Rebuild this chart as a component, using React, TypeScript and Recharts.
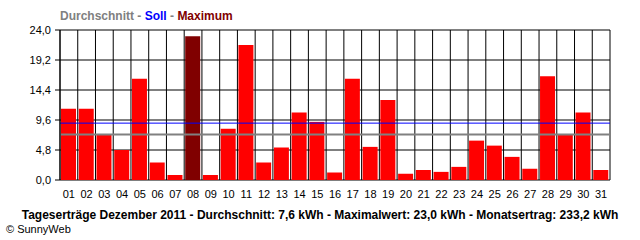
import React from 'react';
import { BarChart, Bar, XAxis, YAxis, CartesianGrid, ReferenceLine, Cell } from 'recharts';

const days = ['01','02','03','04','05','06','07','08','09','10','11','12','13','14','15','16','17','18','19','20','21','22','23','24','25','26','27','28','29','30','31'];
const yields = [11.4, 11.4, 7.3, 4.8, 16.2, 2.8, 0.8, 23.0, 0.8, 8.2, 21.6, 2.8, 5.2, 10.8, 9.3, 1.2, 16.2, 5.3, 12.8, 1.0, 1.6, 1.3, 2.1, 6.3, 5.5, 3.7, 1.8, 16.6, 7.3, 10.8, 1.6];
const yTicks = [0, 4.8, 9.6, 14.4, 19.2, 24];
const boundaryTicks = Array.from({ length: days.length + 1 }, (_, i) => i);
const targetValue = 9.1;
const averageValue = 7.3;
const legendItems = [
  { text: 'Durchschnitt', color: '#808080' },
  { text: 'Soll', color: '#0000FF' },
  { text: 'Maximum', color: '#800000' },
];
const title = 'Tageserträge Dezember 2011 - Durchschnitt: 7,6 kWh - Maximalwert: 23,0 kWh - Monatsertrag: 233,2 kWh';
const credit = '© SunnyWeb';

const maxVal = Math.max(...yields);
const data = days.map((d, i) => ({ day: d, value: yields[i] }));

const FONT = '"Liberation Sans", Arial, sans-serif';

export default function App() {
  return (
    <div style={{ position: 'absolute', left: 0, top: 0, width: 640, height: 240, background: '#fff', fontFamily: FONT }}>
      <div style={{ position: 'absolute', left: 60, top: 9, fontSize: 12, fontWeight: 'bold', whiteSpace: 'nowrap', lineHeight: '14px' }}>
        {legendItems.map((it, i) => (
          <React.Fragment key={it.text}>
            {i > 0 && <span style={{ color: '#808080' }}> - </span>}
            <span style={{ color: it.color }}>{it.text}</span>
          </React.Fragment>
        ))}
      </div>
      <BarChart width={640} height={240} data={data} margin={{ top: 30, right: 30, left: 10, bottom: 30 }}>
        <XAxis xAxisId="num" type="number" dataKey="x" domain={[0, days.length]} ticks={boundaryTicks} height={0}
          axisLine={{ stroke: '#000' }} tickLine={{ stroke: '#000' }} tickSize={5} tickFormatter={() => ''} allowDataOverflow />
        <XAxis xAxisId="cat" dataKey="day" height={30} axisLine={false} tickLine={false} tickSize={5} tickMargin={5}
          interval={0} tick={{ fill: '#000', fontSize: 11, fontFamily: FONT }} />
        <YAxis domain={[0, 24]} ticks={yTicks} width={50} tickSize={5} tickMargin={4}
          axisLine={{ stroke: '#000' }} tickLine={{ stroke: '#000' }}
          tickFormatter={(v: number) => v.toFixed(1).replace('.', ',')}
          tick={{ fill: '#000', fontSize: 11, fontFamily: FONT }} />
        <CartesianGrid xAxisId="num" stroke="#000" strokeWidth={1} />
        <Bar xAxisId="cat" dataKey="value" barSize={15} isAnimationActive={false}>
          {data.map((d) => (
            <Cell key={d.day} fill={d.value === maxVal ? '#800000' : '#FF0000'} />
          ))}
        </Bar>
        <ReferenceLine xAxisId="cat" y={targetValue} stroke="#0000FF" strokeWidth={1} />
        <ReferenceLine xAxisId="cat" y={averageValue} stroke="#808080" strokeWidth={2} />
      </BarChart>
      <div style={{ position: 'absolute', left: 0, width: 640, top: 208, textAlign: 'center', fontSize: 12, fontWeight: 'bold', whiteSpace: 'nowrap', lineHeight: '15px' }}>
        {title}
      </div>
      <div style={{ position: 'absolute', left: 6, top: 222, fontSize: 11, whiteSpace: 'nowrap', lineHeight: '14px' }}>
        {credit}
      </div>
    </div>
  );
}
